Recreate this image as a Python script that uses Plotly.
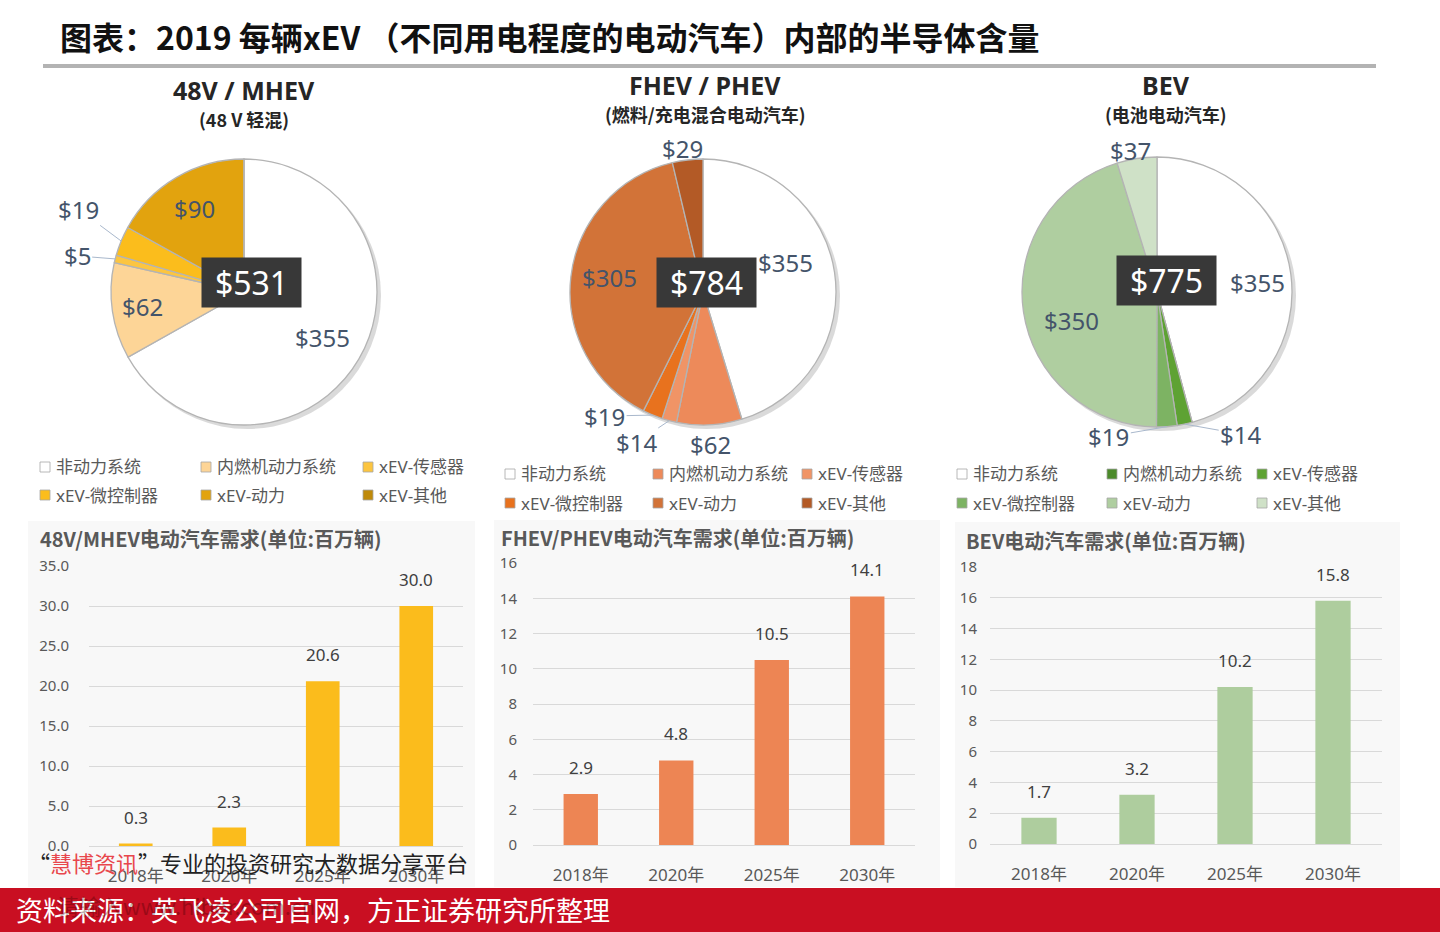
import math
import plotly.graph_objects as go

W, H = 1440, 932

# ---------------- data ----------------
components = ["非动力系统", "内燃机动力系统", "xEV-传感器", "xEV-微控制器", "xEV-动力", "xEV-其他"]
mhev_values = [355, 62, 5, 19, 90, 0]
phev_values = [355, 62, 14, 19, 305, 29]
bev_values = [355, 0, 14, 19, 350, 37]

years = ["2018年", "2020年", "2025年", "2030年"]
mhev_demand = [0.3, 2.3, 20.6, 30.0]
phev_demand = [2.9, 4.8, 10.5, 14.1]
bev_demand = [1.7, 3.2, 10.2, 15.8]

pie_titles = ["48V / MHEV", "FHEV / PHEV", "BEV"]
pie_subtitles = ["(48 V 轻混)", "(燃料/充电混合电动汽车)", "(电池电动汽车)"]
bar_titles = ["48V/MHEV电动汽车需求(单位:百万辆)", "FHEV/PHEV电动汽车需求(单位:百万辆)", "BEV电动汽车需求(单位:百万辆)"]

main_title = "图表：2019 每辆xEV （不同用电程度的电动汽车）内部的半导体含量"
source_text = "资料来源：英飞凌公司官网，方正证券研究所整理"

# ---------------- styles ----------------
mhev_colors = ["#ffffff", "#fdd597", "#fcc540", "#fbbd1c", "#e2a30e", "#bf8a0a"]
phev_colors = ["#ffffff", "#ed8a5a", "#f09466", "#e8721e", "#d27338", "#b35a26"]
bev_colors = ["#ffffff", "#4c8a2b", "#5ea233", "#7db363", "#afcea0", "#cfe1c7"]
bar_colors = ["#fbbc1c", "#ed8554", "#aecd9e"]

# label placement style per slice: (radius factor, nudge dx, nudge dy, leader line)
mhev_label_style = [(0.68, 0, 0, False), (0.77, 0, 0, False), (1.0, -38, -3, True),
                    (1.0, -43, -32, True), (0.73, 0, 0, False), (1.0, 0, 0, False)]
phev_label_style = [(0.66, -4, -17, False), (1.0, 1, 20, False), (1.0, -33, 22, True),
                    (1.0, -48, 1, True), (0.71, 0, -4, False), (1.0, -5, -11, False)]
bev_label_style = [(0.75, 0, 4, False), (1.0, 0, 0, False), (1.0, 56, 10, True),
                   (1.0, -58, 10, True), (0.67, 4, 15, False), (1.0, -6, -8, False)]

CJK = "Noto Sans CJK SC"
LAT = "Noto Sans, Noto Sans CJK SC"
LABEL_COLOR = "#44546a"


def px(x):
    return x / W


def py(y):
    return 1 - y / H


fig = go.Figure()
shapes = []
annotations = []


def ann(x, y, text, size, color, family=LAT, xanchor="center", yanchor="middle", **kw):
    d = dict(x=px(x), y=py(y), xref="paper", yref="paper", text=text, showarrow=False,
             xanchor=xanchor, yanchor=yanchor, font=dict(family=family, size=size, color=color))
    d.update(kw)
    annotations.append(d)


# ---------------- pies ----------------
pies = [
    dict(values=mhev_values, colors=mhev_colors, lstyle=mhev_label_style, cx=244, cy=292, r=133,
         box=(252, 282), tx=244, ty=90, sty=119,
         legend_cols=[40, 201, 363], legend_rows=[467, 495]),
    dict(values=phev_values, colors=phev_colors, lstyle=phev_label_style, cx=703, cy=292, r=133,
         box=(706, 282), tx=705, ty=85, sty=114,
         legend_cols=[505, 653, 802], legend_rows=[474, 503]),
    dict(values=bev_values, colors=bev_colors, lstyle=bev_label_style, cx=1157, cy=292, r=135,
         box=(1166, 281), tx=1166, ty=85, sty=114,
         legend_cols=[957, 1107, 1257], legend_rows=[474, 503]),
]

for i, p in enumerate(pies):
    cx, cy, r = p["cx"], p["cy"], p["r"]
    vals = p["values"]
    total = sum(vals)
    # soft shadow
    shapes.append(dict(type="circle", xref="paper", yref="paper",
                       x0=px(cx - r + 3), x1=px(cx + r + 4), y0=py(cy + r + 4), y1=py(cy - r + 3),
                       fillcolor="rgba(150,150,150,0.35)", line=dict(width=0), layer="below"))
    fig.add_trace(go.Pie(
        labels=components, values=vals, textinfo="none",
        sort=False, direction="clockwise", rotation=0,
        marker=dict(colors=p["colors"], line=dict(color="#b4b4b4", width=1.3)),
        domain=dict(x=[px(cx - r), px(cx + r)], y=[py(cy + r), py(cy - r)]),
        hoverinfo="label+value", showlegend=False,
    ))
    # slice value labels, placed at each slice's mid-angle (computed from the data)
    cum = 0
    for k, v in enumerate(vals):
        start = cum
        cum += v
        if v <= 0:
            continue
        mid = math.radians((start + v / 2) / total * 360)
        rf, dx, dy, leader = p["lstyle"][k]
        ex = cx + r * rf * math.sin(mid)
        ey = cy - r * rf * math.cos(mid)
        lx, ly = ex + dx, ey + dy
        if leader:
            annotations.append(dict(x=px(ex), y=py(ey), xref="paper", yref="paper",
                                    ax=dx, ay=dy, axref="pixel", ayref="pixel",
                                    text=f"${v}", showarrow=True, arrowhead=0, arrowwidth=1,
                                    arrowcolor="#a9b8cc", standoff=0,
                                    xanchor="center", yanchor="middle",
                                    font=dict(family=LAT, size=24, color=LABEL_COLOR)))
        else:
            ann(lx, ly, f"${v}", 24, LABEL_COLOR)
    bx, by = p["box"]
    ann(bx, by, f"${total}", 32, "#ffffff", width=99, height=49, bgcolor="#383838", borderpad=0)
    ann(p["tx"], p["ty"], f"<b>{pie_titles[i]}</b>", 25, "#262626")
    ann(p["tx"], p["sty"], f"<b>{pie_subtitles[i]}</b>", 18, "#262626", family=CJK)
    # legend grid 3 x 2
    for k, name in enumerate(components):
        col = k % 3
        row = k // 3
        sx = p["legend_cols"][col]
        sy = p["legend_rows"][row]
        shapes.append(dict(type="rect", xref="paper", yref="paper",
                           x0=px(sx), x1=px(sx + 10), y0=py(sy + 5), y1=py(sy - 5),
                           fillcolor=p["colors"][k], line=dict(color="#a6a6a6", width=0.8)))
        ann(sx + 14, sy, name, 17, "#595959", xanchor="left")

# ---------------- bars ----------------
bars = [
    dict(values=mhev_demand, color=bar_colors[0], x=(89, 463), y=(566, 846), rng=35, dtick=5,
         fmt=".1f", panel=(28, 521, 475, 887), title_xy=(38, 538), ystand=19),
    dict(values=phev_demand, color=bar_colors[1], x=(533, 915), y=(563, 845), rng=16, dtick=2,
         fmt="d", panel=(494, 520, 940, 887), title_xy=(499, 537), ystand=15),
    dict(values=bev_demand, color=bar_colors[2], x=(990, 1382), y=(567, 844), rng=18, dtick=2,
         fmt="d", panel=(955, 522, 1400, 887), title_xy=(964, 540), ystand=12),
]

layout_axes = {}
for i, b in enumerate(bars):
    n = "" if i == 0 else str(i + 1)
    xa, ya = "x" + n, "y" + n
    x0, y0, x1, y1 = b["panel"]
    shapes.append(dict(type="rect", xref="paper", yref="paper",
                       x0=px(x0), x1=px(x1), y0=py(y1), y1=py(y0),
                       fillcolor="#f8f8f8", line=dict(width=0), layer="below"))
    fig.add_trace(go.Bar(x=years, y=b["values"], marker=dict(color=b["color"], line=dict(width=0)),
                         xaxis=xa, yaxis=ya, showlegend=False, width=0.36,
                         hovertemplate="%{x}: %{y}<extra></extra>"))
    for yr, v in zip(years, b["values"]):
        annotations.append(dict(x=yr, y=v, xref=xa, yref=ya, text=f"{v:.1f}",
                                showarrow=False, xanchor="center", yanchor="bottom", yshift=13,
                                font=dict(family=LAT, size=17, color="#404040")))
    ann(b["title_xy"][0], b["title_xy"][1], f"<b>{bar_titles[i]}</b>", 20, "#595959",
        family=CJK, xanchor="left")
    layout_axes["xaxis" + n] = dict(domain=[px(b["x"][0]), px(b["x"][1])], anchor=ya,
                                    showgrid=False, showline=False, ticks="", zeroline=False,
                                    automargin=False,
                                    tickfont=dict(family=LAT, size=17, color="#595959"),
                                    ticklabelstandoff=18, fixedrange=True)
    layout_axes["yaxis" + n] = dict(domain=[py(b["y"][1]), py(b["y"][0])], anchor=xa,
                                    range=[0, b["rng"]], dtick=b["dtick"], tickformat=b["fmt"],
                                    showgrid=True, gridcolor="#d9d9d9", gridwidth=1,
                                    zeroline=True, zerolinecolor="#d9d9d9", zerolinewidth=1,
                                    showline=False, ticks="", automargin=False,
                                    tickfont=dict(family=LAT, size=15, color="#595959"),
                                    ticklabelstandoff=b["ystand"], fixedrange=True)

# ---------------- title / rule / footer ----------------
ann(58, 36, f"<b>{main_title}</b>", 32, "#111111", family=CJK, xanchor="left")
shapes.append(dict(type="line", xref="paper", yref="paper", x0=px(43), x1=px(1376),
                   y0=py(66), y1=py(66), line=dict(color="#b3b3b3", width=4)))

shapes.append(dict(type="rect", xref="paper", yref="paper", x0=0, x1=1, y0=0, y1=py(888),
                   fillcolor="#c90f22", line=dict(width=0), layer="above"))
ann(14, 909, source_text, 27, "#ffffff", family=CJK, xanchor="left")
ann(55, 905, "请输入www.hibor.com.cn", 22, "#300000", family=CJK, xanchor="left", opacity=0.3)
ann(26, 862, "“<span style='color:#e8474c'>慧博资讯</span>”专业的投资研究大数据分享平台",
    22, "#222222", family=CJK, xanchor="left")

fig.update_layout(
    width=W, height=H, margin=dict(l=0, r=0, t=0, b=0, pad=0, autoexpand=False),
    paper_bgcolor="#ffffff", plot_bgcolor="rgba(0,0,0,0)",
    showlegend=False, bargap=0.64,
    shapes=shapes, annotations=annotations,
    font=dict(family=LAT),
    **layout_axes,
)

fig.write_html("out.html", config={"displayModeBar": False},
               post_script="document.body.style.margin='0';document.body.style.overflow='hidden';")
